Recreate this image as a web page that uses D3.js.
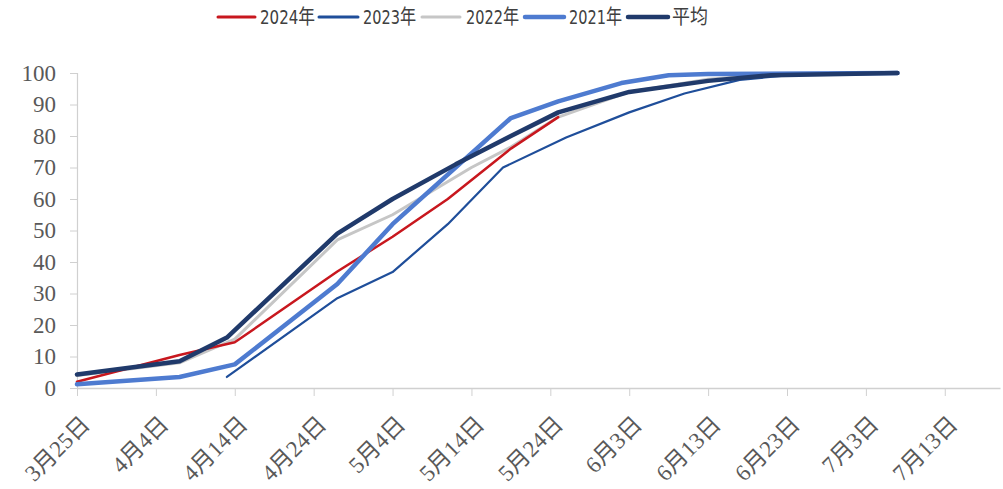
<!DOCTYPE html>
<html>
<head>
<meta charset="utf-8">
<script src="https://cdn.jsdelivr.net/npm/d3@7"></script>
<style>
  html, body { margin: 0; padding: 0; background: #fff; }
  svg { display: block; }
</style>
</head>
<body>
<svg id="chart" width="1003" height="489"></svg>
<script>
// ---- data ----
const seriesNames = ["2024年", "2023年", "2022年", "2021年", "平均"];

const dates2024 = ["2024-03-25","2024-04-07","2024-04-14","2024-04-27","2024-05-04","2024-05-11","2024-05-19","2024-05-25"];
const values2024 = [2, 10.5, 14.5, 37, 48, 60, 76, 86];

const dates2023 = ["2024-04-13","2024-04-27","2024-05-04","2024-05-11","2024-05-18","2024-05-26","2024-06-03","2024-06-10","2024-06-17","2024-06-24","2024-07-07"];
const values2023 = [3.5, 28.5, 36.8, 52, 70, 79.5, 87.5, 93.5, 97.8, 99.5, 100];

const dates2022 = ["2024-03-25","2024-04-07","2024-04-14","2024-04-27","2024-05-04","2024-05-14","2024-05-19","2024-05-25","2024-06-03","2024-06-13","2024-06-21","2024-07-07"];
const values2022 = [4, 8, 15.5, 47, 55, 70, 76.5, 86, 94, 98, 99.5, 100];

const dates2021 = ["2024-03-25","2024-04-07","2024-04-14","2024-04-27","2024-05-04","2024-05-19","2024-05-25","2024-06-02","2024-06-08","2024-06-13","2024-07-07"];
const values2021 = [1.2, 3.5, 7.5, 33, 52, 85.7, 91, 96.8, 99.3, 99.7, 100];

const datesAvg = ["2024-03-25","2024-04-07","2024-04-13","2024-04-27","2024-05-04","2024-05-12","2024-05-19","2024-05-25","2024-06-03","2024-06-13","2024-06-21","2024-07-07"];
const valuesAvg = [4.3, 8.5, 16, 49, 60, 71, 80, 87.5, 94, 97.5, 99.3, 100];

const xTickDates = ["2024-03-25","2024-04-04","2024-04-14","2024-04-24","2024-05-04","2024-05-14","2024-05-24","2024-06-03","2024-06-13","2024-06-23","2024-07-03","2024-07-13"];
const xTickLabels = ["3月25日","4月4日","4月14日","4月24日","5月4日","5月14日","5月24日","6月3日","6月13日","6月23日","7月3日","7月13日"];
const yTicks = [0,10,20,30,40,50,60,70,80,90,100];

// ---- styles ----
const styles = {
  "2024年": { color: "#C8171E", width: 2.5 },
  "2023年": { color: "#1F4E9A", width: 2.2 },
  "2022年": { color: "#C6C6C6", width: 3 },
  "2021年": { color: "#4E7BD0", width: 4.5 },
  "平均":   { color: "#203A6B", width: 4.5 }
};

const parse = d3.timeParse("%Y-%m-%d");
const series = {
  "2024年": dates2024.map((d,i)=>({date: parse(d), value: values2024[i]})),
  "2023年": dates2023.map((d,i)=>({date: parse(d), value: values2023[i]})),
  "2022年": dates2022.map((d,i)=>({date: parse(d), value: values2022[i]})),
  "2021年": dates2021.map((d,i)=>({date: parse(d), value: values2021[i]})),
  "平均":   datesAvg.map((d,i)=>({date: parse(d), value: valuesAvg[i]}))
};

const svg = d3.select("#chart");
const mLeft = 77, mRight = 1000, mTop = 73, mBottom = 388;

const x = d3.scaleTime()
  .domain([parse("2024-03-25"), parse("2024-07-20")])
  .range([mLeft, mRight]);
const y = d3.scaleLinear().domain([0, 100]).range([mBottom, mTop]);

const axisColor = "#D0D0D0";
const textColor = "#595959";
const axisFont = "'Liberation Serif', 'Noto Sans CJK SC', serif";

// y axis
const yAxis = svg.append("g").attr("transform", `translate(${mLeft},0)`)
  .call(d3.axisLeft(y).tickValues(yTicks).tickSize(7).tickPadding(14).tickFormat(d3.format("d")));
yAxis.select(".domain").attr("stroke", axisColor).attr("stroke-width", 1.2);
yAxis.selectAll(".tick line").attr("stroke", axisColor);
yAxis.selectAll(".tick text")
  .attr("fill", textColor).style("font-family", axisFont).style("font-size", "23px");

// x axis
const xAxis = svg.append("g").attr("transform", `translate(0,${mBottom})`)
  .call(d3.axisBottom(x).tickValues(xTickDates.map(parse)).tickSize(8)
    .tickFormat((d,i)=>xTickLabels[i]).tickSizeOuter(0));
xAxis.select(".domain").attr("stroke", axisColor).attr("stroke-width", 1.5);
xAxis.selectAll(".tick line").attr("stroke", axisColor);
xAxis.selectAll(".tick text")
  .attr("fill", textColor).style("font-family", axisFont).style("font-size", "23px")
  .attr("text-anchor", "end")
  .attr("y", 0).attr("dy", "0.35em")
  .attr("transform", "translate(8,32) rotate(-45)");

// lines
const line = d3.line().x(d=>x(d.date)).y(d=>y(d.value));
const drawOrder = ["2022年", "2024年", "2023年", "2021年", "平均"];
svg.append("g").selectAll("path").data(drawOrder).join("path")
  .attr("d", k=>line(series[k]))
  .attr("fill", "none")
  .attr("stroke", k=>styles[k].color)
  .attr("stroke-width", k=>styles[k].width)
  .attr("stroke-linejoin", "round")
  .attr("stroke-linecap", "round");

// legend
const legendItems = [
  { name: "2024年", x1: 218, x2: 255, tx: 260, w: 55 },
  { name: "2023年", x1: 319, x2: 358, tx: 363, w: 53 },
  { name: "2022年", x1: 422, x2: 460, tx: 466, w: 53 },
  { name: "2021年", x1: 525, x2: 564, tx: 569, w: 53 },
  { name: "平均",   x1: 628, x2: 668, tx: 672, w: 36 }
];
const lg = svg.append("g");
const ly = 17;
lg.selectAll("line").data(legendItems).join("line")
  .attr("x1", d=>d.x1).attr("x2", d=>d.x2).attr("y1", ly).attr("y2", ly)
  .attr("stroke", d=>styles[d.name].color)
  .attr("stroke-width", d=>Math.max(3, styles[d.name].width))
  .attr("stroke-linecap", "round");
lg.selectAll("text").data(legendItems).join("text")
  .attr("x", d=>d.tx).attr("y", ly).attr("dy", "0.36em")
  .text(d=>d.name)
  .attr("textLength", d=>d.w)
  .attr("lengthAdjust", "spacingAndGlyphs")
  .attr("fill", "#404040")
  .style("font-family", "'DejaVu Sans Condensed', 'Noto Sans CJK SC', sans-serif")
  .style("font-size", "20px");
</script>
</body>
</html>
